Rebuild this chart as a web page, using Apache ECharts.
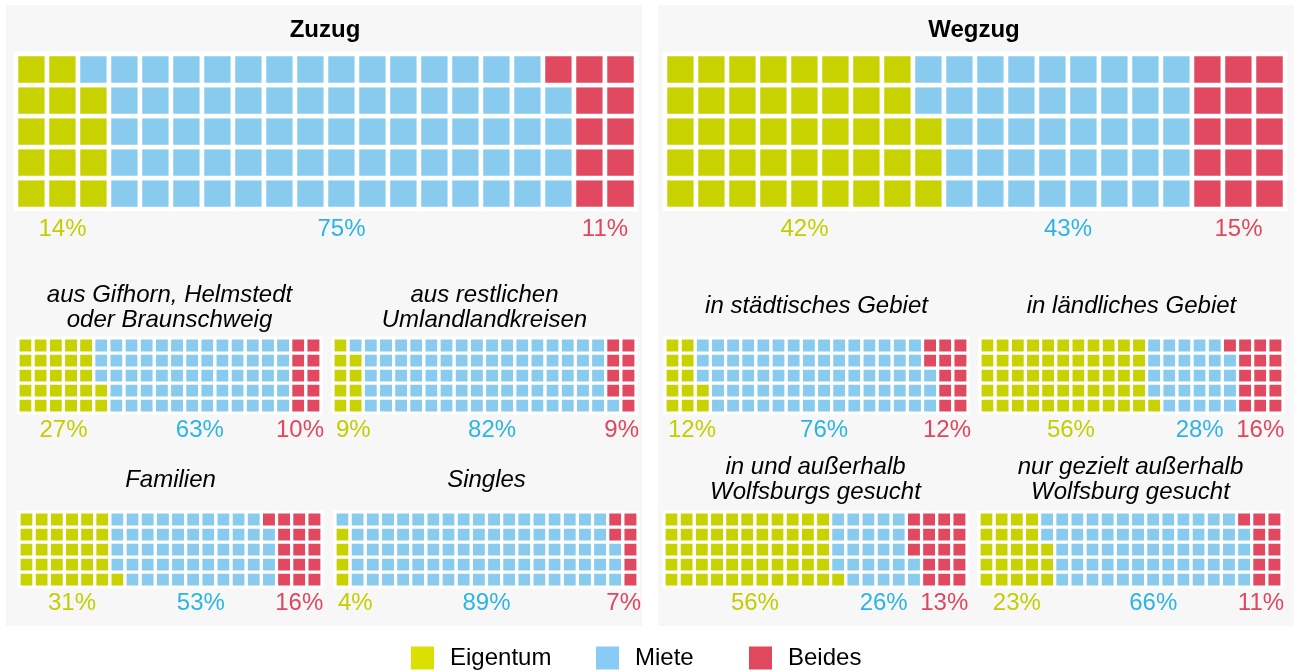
<!DOCTYPE html>
<html>
<head>
<meta charset='utf-8' />
<title></title>
<style>
html, body { margin: 0; padding: 0; background: #fff; }
#chart { width: 1294px; height: 671px; }
</style>
</head>
<body>
<div id="chart"></div>
<script src="https://cdn.jsdelivr.net/npm/echarts@6/dist/echarts.min.js"></script>
<script>
// categories and texts
var categories = ['Eigentum', 'Miete', 'Beides'];
var waffleNames = ['Zuzug', 'Wegzug',
  'aus Gifhorn, Helmstedt\noder Braunschweig', 'aus restlichen\nUmlandlandkreisen',
  'Familien', 'Singles',
  'in städtisches Gebiet', 'in ländliches Gebiet',
  'in und außerhalb\nWolfsburgs gesucht', 'nur gezielt außerhalb\nWolfsburg gesucht'];

// squares drawn in each 100-square waffle
var eigentumCells = [14, 43, 27, 9, 31, 4, 12, 56, 56, 23];
var mieteCells    = [75, 42, 63, 82, 53, 89, 76, 28, 26, 66];
var beidesCells   = [11, 15, 10, 9, 16, 7, 12, 16, 18, 11];

// printed percentages
var eigentumPct = [14, 42, 27, 9, 31, 4, 12, 56, 56, 23];
var mietePct    = [75, 43, 63, 82, 53, 89, 76, 28, 26, 66];
var beidesPct   = [11, 15, 10, 9, 16, 7, 12, 16, 13, 11];

var FONT = '"Liberation Sans", Arial, sans-serif';
var LABEL_SIZE = 24;
var cellColors = ['#c8d200', '#88cbef', '#e0495f'];
var textColors = ['#c3ce00', '#2db4e6', '#e0465d'];
var legendColors = ['#dce000', '#88ccf5', '#e0485e'];
var legendLeft = [411, 596, 749];

// placement of every waffle (pixels)
var boxes = [
  {left: 16,  top: 54,  width: 620, height: 155, gap: 4.5, dy: 20, ty: 0},
  {left: 665, top: 54,  width: 620, height: 155, gap: 4.5, dy: 20, ty: 0},
  {left: 18,  top: 338, width: 303, height: 75,  gap: 3.2, dy: 17, ty: 308},
  {left: 333, top: 338, width: 303, height: 75,  gap: 3.2, dy: 17, ty: 308},
  {left: 19,  top: 512, width: 303, height: 75,  gap: 3.2, dy: 16, ty: 480},
  {left: 335, top: 512, width: 303, height: 75,  gap: 3.2, dy: 16, ty: 480},
  {left: 665, top: 338, width: 303, height: 75,  gap: 3.2, dy: 17, ty: 306},
  {left: 980, top: 338, width: 303, height: 75,  gap: 3.2, dy: 17, ty: 306},
  {left: 664, top: 512, width: 303, height: 75,  gap: 3.2, dy: 16, ty: 480},
  {left: 979, top: 512, width: 303, height: 75,  gap: 3.2, dy: 16, ty: 480}
];

function cellRenderer(gap) {
  return function (params, api) {
    var p = api.coord([api.value(0), api.value(1) + 1]);
    var s = api.size([1, 1]);
    return {
      type: 'rect',
      shape: {x: p[0], y: p[1], width: s[0], height: s[1]},
      style: {fill: api.visual('color'), stroke: '#fff', lineWidth: gap}
    };
  };
}

function labelRenderer(dy) {
  return function (params, api) {
    var cs = params.coordSys;
    var p = api.coord([api.value(0), 0]);
    var v = api.value(2);
    var half = (String(v).length * 0.556 + 0.889) * LABEL_SIZE / 2;
    var x = Math.max(cs.x + 3 + half, Math.min(cs.x + cs.width + 3 - half, p[0]));
    return {
      type: 'text',
      x: x,
      y: p[1] + dy,
      style: {
        text: v + '%',
        fill: textColors[api.value(3)],
        font: LABEL_SIZE + 'px ' + FONT,
        align: 'center',
        verticalAlign: 'middle'
      }
    };
  };
}

var grids = [], xAxes = [], yAxes = [], series = [], titles = [];

boxes.forEach(function (b, i) {
  grids.push({left: b.left, top: b.top, width: b.width, height: b.height, containLabel: false});
  xAxes.push({type: 'value', gridIndex: i, min: 0, max: 20, show: false});
  yAxes.push({type: 'value', gridIndex: i, min: 0, max: 5, show: false});

  var counts = [eigentumCells[i], mieteCells[i], beidesCells[i]];
  var pcts = [eigentumPct[i], mietePct[i], beidesPct[i]];
  var bottom = [[], [], []];
  var k = 0;
  counts.forEach(function (n, c) {
    var data = [];
    // fill column by column, bottom to top
    for (var j = 0; j < n; j++, k++) {
      var col = Math.floor(k / 5), row = k % 5;
      data.push([col, row]);
      if (row === 0) bottom[c].push(col);
    }
    series.push({
      name: categories[c],
      type: 'custom',
      xAxisIndex: i,
      yAxisIndex: i,
      silent: true,
      itemStyle: {color: cellColors[c]},
      renderItem: cellRenderer(b.gap),
      data: data
    });
  });

  var labelData = pcts.map(function (p, c) {
    var cols = bottom[c];
    var mid = (Math.min.apply(null, cols) + Math.max.apply(null, cols) + 1) / 2;
    return [mid, 0, p, c];
  });
  series.push({
    type: 'custom',
    xAxisIndex: i,
    yAxisIndex: i,
    silent: true,
    renderItem: labelRenderer(b.dy),
    data: labelData
  });

  if (i < 2) {
    titles.push({
      text: waffleNames[i], left: b.left + b.width / 2 - 1, top: 30,
      textAlign: 'center', textVerticalAlign: 'middle', padding: 0,
      textStyle: {fontSize: 24, fontWeight: 'bold', color: '#000', fontFamily: FONT}
    });
  } else {
    titles.push({
      text: waffleNames[i], left: b.left + b.width / 2, top: b.ty,
      textAlign: 'center', textVerticalAlign: 'middle', padding: 0,
      textStyle: {fontSize: 24, fontStyle: 'italic', fontWeight: 'normal', color: '#000',
        fontFamily: FONT, lineHeight: 25}
    });
  }
});

var myChart = echarts.init(document.getElementById('chart'));
var option = {
  animation: false,
  backgroundColor: '#fff',
  title: titles,
  grid: grids,
  xAxis: xAxes,
  yAxis: yAxes,
  graphic: [
    {type: 'rect', silent: true, z: -10, shape: {x: 6, y: 5, width: 636, height: 621}, style: {fill: '#f7f7f7'}},
    {type: 'rect', silent: true, z: -10, shape: {x: 658, y: 5, width: 636, height: 621}, style: {fill: '#f7f7f7'}}
  ],
  legend: categories.map(function (c, i) {
    return {
      data: [{name: c, itemStyle: {color: legendColors[i]}}],
      left: legendLeft[i],
      top: 646,
      padding: 0,
      icon: 'rect',
      itemWidth: 23,
      itemHeight: 23,
      selectedMode: false,
      textStyle: {fontSize: 24, color: '#000', fontFamily: FONT, padding: [0, 0, 0, 11]}
    };
  }),
  series: series
};
myChart.setOption(option);
</script>
</body>
</html>
